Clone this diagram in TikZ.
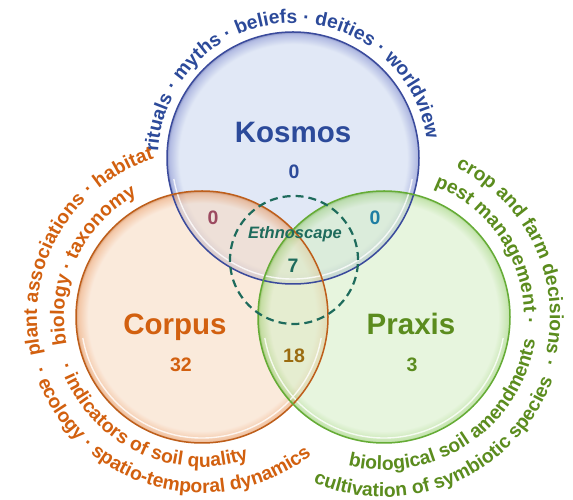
\documentclass[tikz,border=0pt]{standalone}
\usepackage{fontspec}
\setmainfont{Liberation Sans}
\usepackage{tikz}
\usetikzlibrary{decorations.text,calc}
\definecolor{kosmosblue}{HTML}{2C4A9A}
\definecolor{kosmosfill}{HTML}{CDD9F0}
\definecolor{kosmosrim}{HTML}{7F8ED0}
\definecolor{kosmosedge}{HTML}{3A4A9C}
\definecolor{corpusorange}{HTML}{D2600F}
\definecolor{corpusfill}{HTML}{F8DCC4}
\definecolor{corpusrim}{HTML}{EBA06A}
\definecolor{corpusedge}{HTML}{BE5E1A}
\definecolor{praxisgreen}{HTML}{5B8C1E}
\definecolor{praxisfill}{HTML}{D8EFC9}
\definecolor{praxisrim}{HTML}{A2D57E}
\definecolor{praxisedge}{HTML}{65AC35}
\definecolor{ethno}{HTML}{1E6B5C}
\definecolor{kcmix}{HTML}{9C4A60}
\definecolor{kpmix}{HTML}{1F7EA3}
\definecolor{cpmix}{HTML}{9A6B10}
\pgfdeclareradialshading{kosmosshade}{\pgfpoint{0bp}{0bp}}{color(0bp)=(kosmosfill); color(22.6bp)=(kosmosfill); color(24.6bp)=(kosmosrim); color(25bp)=(kosmosedge); color(50bp)=(kosmosedge)}
\pgfdeclareradialshading{corpusshade}{\pgfpoint{0bp}{0bp}}{color(0bp)=(corpusfill); color(22.6bp)=(corpusfill); color(24.6bp)=(corpusrim); color(25bp)=(corpusedge); color(50bp)=(corpusedge)}
\pgfdeclareradialshading{praxisshade}{\pgfpoint{0bp}{0bp}}{color(0bp)=(praxisfill); color(22.6bp)=(praxisfill); color(24.6bp)=(praxisrim); color(25bp)=(praxisedge); color(50bp)=(praxisedge)}
\newcommand{\ringfont}{\fontsize{19.3}{22}\selectfont\bfseries}
\tikzset{
  setname/.style={
    font=\fontsize{29.5}{34}\selectfont\bfseries,
    inner sep=0pt,
    anchor=base
  },
  count/.style={
    font=\fontsize{19.5}{22}\selectfont\bfseries,
    inner sep=0pt,
    anchor=base
  },
  bubble/.style={
    fill opacity=0.6,
    draw opacity=1
  },
  rimline/.style={
    line width=1.5pt
  },
  gloss/.style={
    white,
    line width=1.4pt,
    opacity=0.8
  },
  ethnoring/.style={
    ethno,
    line width=2.2pt,
    dash pattern=on 8pt off 5pt
  }
}
\begin{document}
\begin{tikzpicture}[x=1pt,y=1pt]
        \fill[white] (0,0) rectangle (573,500);
        \useasboundingbox (0,0) rectangle (573,500);
        \coordinate (K) at (293,342);
        \coordinate (C) at (202,183);
        \coordinate (P) at (384,183);
        \coordinate (E) at (294,240);
        % the three sets
        \shade[bubble, shading=kosmosshade] (K) circle[radius=126pt];
        \shade[bubble, shading=corpusshade] (C) circle[radius=126pt];
        \shade[bubble, shading=praxisshade] (P) circle[radius=126pt];
        \draw[gloss] ([shift={(190:121pt)}]K) arc[start angle=190, end angle=350, radius=121pt];
        \draw[gloss] ([shift={(190:121pt)}]C) arc[start angle=190, end angle=350, radius=121pt];
        \draw[gloss] ([shift={(190:121pt)}]P) arc[start angle=190, end angle=350, radius=121pt];
        \draw[rimline, kosmosedge] (K) circle[radius=126pt];
        \draw[rimline, corpusedge] (C) circle[radius=126pt];
        \draw[rimline, praxisedge] (P) circle[radius=126pt];
        \draw[ethnoring] (E) circle[radius=64pt];
        % names and counts
        \node[setname, text=kosmosblue] (kosmos) at (293,357) {Kosmos};
        \node[count, text=kosmosblue] (nK) at (294,321) {0};
        \node[count, text=kcmix] (nKC) at (213,275) {0};
        \node[count, text=kpmix] (nKP) at (375,275) {0};
        \node[inner sep=0pt, anchor=base, text=ethno, font=\fontsize{16.5}{19}\selectfont\bfseries\itshape] (ethnoscape) at (295,261) {Ethnoscape};
        \node[count, text=ethno] (nKCP) at (293,227) {7};
        \node[setname, text=corpusorange] (corpus) at (175,165) {Corpus};
        \node[count, text=corpusorange] (nC) at (181,128) {32};
        \node[count, text=cpmix] (nCP) at (294,137) {18};
        \node[setname, text=praxisgreen] (praxis) at (411,165) {Praxis};
        \node[count, text=praxisgreen] (nP) at (412,128) {3};
        % texts round the sets
        \path[decorate, decoration={text along path, text align=center, text color=kosmosblue,
            text={|\ringfont|rituals · myths · beliefs · deities · worldview}}]
            ([shift={(187.75:135pt)}]K) arc[start angle=187.75, end angle=-2.25, radius=135pt];
        \path[decorate, decoration={text along path, text align=center, text color=corpusorange,
            text={|\ringfont|plant associations · habitat}}]
            ([shift={(210:165pt)}]C) arc[start angle=210, end angle=90, radius=165pt];
        \path[decorate, decoration={text along path, text align=center, text color=corpusorange,
            text={|\ringfont|biology · taxonomy}}]
            ([shift={(209.75:138pt)}]C) arc[start angle=209.75, end angle=99.75, radius=138pt];
        \path[decorate, decoration={text along path, text align=center, text color=corpusorange,
            text={|\ringfont|· ecology · spatio-temporal dynamics}}]
            ([shift={(178:176pt)}]C) arc[start angle=178, end angle=328, radius=176pt];
        \path[decorate, decoration={text along path, text align=center, text color=corpusorange,
            text={|\ringfont|· indicators of soil quality}}]
            ([shift={(178.5:150pt)}]C) arc[start angle=178.5, end angle=308.5, radius=150pt];
        \path[decorate, decoration={text along path, text align=center, text color=praxisgreen,
            text={|\ringfont|crop and farm decisions ·}}]
            ([shift={(78.8:166pt)}]P) arc[start angle=78.8, end angle=-31.2, radius=166pt];
        \path[decorate, decoration={text along path, text align=center, text color=praxisgreen,
            text={|\ringfont|pest management ·}}]
            ([shift={(83:140pt)}]P) arc[start angle=83, end angle=-17, radius=140pt];
        \path[decorate, decoration={text along path, text align=center, text color=praxisgreen,
            text={|\ringfont|cultivation of symbiotic species}}]
            ([shift={(228.25:180pt)}]P) arc[start angle=228.25, end angle=358.25, radius=180pt];
        \path[decorate, decoration={text along path, text align=center, text color=praxisgreen,
            text={|\ringfont|biological soil amendments}}]
            ([shift={(238.8:153pt)}]P) arc[start angle=238.8, end angle=368.8, radius=153pt];
\end{tikzpicture}
\end{document}
